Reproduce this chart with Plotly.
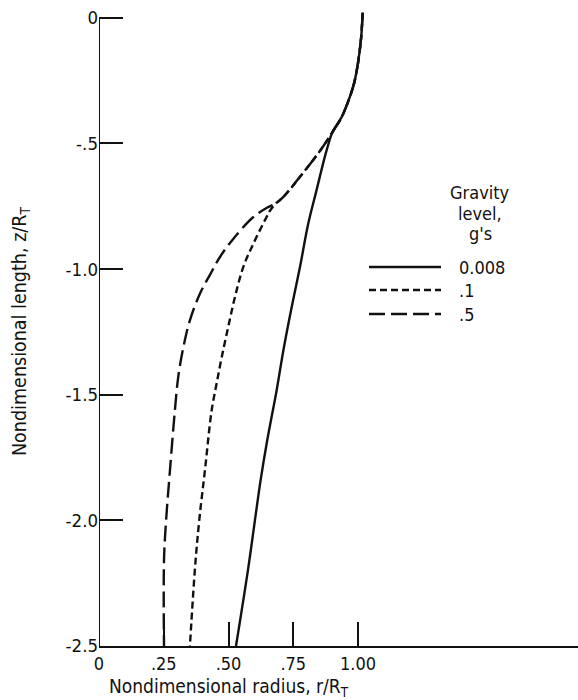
import plotly.graph_objects as go

# ---- data ----
# common upper part of all three profiles
top_r = [1.018, 1.012, 1.000, 0.985, 0.965, 0.937, 0.902]
top_z = [0.020, -0.080, -0.180, -0.260, -0.325, -0.395, -0.454]

# gravity level 0.008 g
g008_r = [0.879, 0.858, 0.840, 0.808, 0.776, 0.744, 0.712, 0.686, 0.668, 0.648, 0.624, 0.602, 0.577, 0.529]
g008_z = [-0.527, -0.610, -0.686, -0.819, -0.992, -1.151, -1.323, -1.482, -1.580, -1.690, -1.840, -2.000, -2.185, -2.500]

# shared part of 0.1 g and 0.5 g
mid_r = [0.853, 0.776, 0.712, 0.685]
mid_z = [-0.530, -0.633, -0.713, -0.737]

# gravity level 0.1 g
g01_r = [0.662, 0.647, 0.596, 0.557, 0.525, 0.499, 0.474, 0.454, 0.435, 0.409, 0.387, 0.371, 0.351]
g01_z = [-0.765, -0.793, -0.899, -0.992, -1.111, -1.230, -1.350, -1.456, -1.562, -1.801, -2.000, -2.185, -2.500]

# gravity level 0.5 g
g05_r = [0.650, 0.596, 0.519, 0.467, 0.430, 0.390, 0.351, 0.326, 0.306, 0.293, 0.274, 0.259, 0.251, 0.251]
g05_z = [-0.755, -0.793, -0.879, -0.952, -1.020, -1.097, -1.204, -1.310, -1.429, -1.562, -1.801, -2.000, -2.159, -2.500]

x_tickvals = [0, 0.25, 0.5, 0.75, 1.0]
x_ticktext = ["0", ".25", ".50", ".75", "1.00"]
y_tickvals = [0, -0.5, -1.0, -1.5, -2.0, -2.5]
y_ticktext = ["0", "-.5", "-1.0", "-1.5", "-2.0", "-2.5"]

legend_labels = ["0.008", ".1", ".5"]
legend_title = ["Gravity", "level,", "g's"]

FONT = "Liberation Sans Narrow, DejaVu Sans Condensed, Arial Narrow, sans-serif"
INK = "#111111"
dashes = ["solid", "7px,4px", "16px,6px"]

series = [
    (legend_labels[0], top_r + g008_r, top_z + g008_z),
    (legend_labels[1], top_r + mid_r + g01_r, top_z + mid_z + g01_z),
    (legend_labels[2], top_r + mid_r + g05_r, top_z + mid_z + g05_z),
]

fig = go.Figure()
for (name, r, z), d in zip(series, dashes):
    fig.add_trace(go.Scatter(
        x=r, y=z, mode="lines", name=name, showlegend=False,
        line=dict(color=INK, width=2.4, dash=d, shape="spline", smoothing=1.0),
        hoverinfo="skip",
    ))

W, H = 578, 700
L, R, T, B = 99, 0, 3, 54
pw, ph = W - L - R, H - T - B

def px_x(p):
    return (p - L) / pw

def px_y(p):
    return (H - B - p) / ph

shapes = [
    # left axis line from -2.5 to 0
    dict(type="line", xref="x", yref="y", x0=0, x1=0, y0=-2.5, y1=0,
         line=dict(color=INK, width=2)),
]
annotations = []

# manual legend
leg_y = [267, 290, 314]
for lbl, d, yy in zip(legend_labels, dashes, leg_y):
    shapes.append(dict(type="line", xref="paper", yref="paper",
                       x0=px_x(369), x1=px_x(441), y0=px_y(yy), y1=px_y(yy),
                       line=dict(color=INK, width=2.4, dash=d)))
    annotations.append(dict(text=lbl, xref="paper", yref="paper",
                            x=px_x(457), y=px_y(yy), xanchor="left", yanchor="middle",
                            showarrow=False, font=dict(family=FONT, size=18, color=INK)))
for t, yy in zip(legend_title, [193, 213, 233]):
    annotations.append(dict(text=t, xref="paper", yref="paper",
                            x=px_x(480), y=px_y(yy), xanchor="center", yanchor="middle",
                            showarrow=False, font=dict(family=FONT, size=18, color=INK)))

# axis titles
annotations.append(dict(text="Nondimensional radius, r/R<sub>T</sub>", xref="paper", yref="paper",
                        x=px_x(107), y=px_y(687), xanchor="left", yanchor="middle",
                        showarrow=False, font=dict(family=FONT, size=19, color=INK)))
annotations.append(dict(text="Nondimensional length, z/R<sub>T</sub>", xref="paper", yref="paper",
                        x=px_x(20), y=px_y(332), xanchor="center", yanchor="middle",
                        textangle=-90, showarrow=False,
                        font=dict(family=FONT, size=19.5, color=INK)))

fig.update_layout(
    width=W, height=H,
    margin=dict(l=L, r=R, t=T, b=B, autoexpand=False),
    paper_bgcolor="white", plot_bgcolor="white",
    font=dict(family=FONT, size=18, color=INK),
    showlegend=False,
    shapes=shapes, annotations=annotations,
    xaxis=dict(range=[0, pw / 259.0], showgrid=False, zeroline=False,
               showline=True, linecolor=INK, linewidth=2,
               tickmode="array", tickvals=x_tickvals, ticktext=x_ticktext,
               ticks="inside", ticklen=24, tickwidth=2, tickcolor=INK,
               tickfont=dict(family=FONT, size=18, color=INK), automargin=False),
    yaxis=dict(range=[-2.5, -2.5 + ph / 251.3], showgrid=False, zeroline=False,
               showline=False,
               tickmode="array", tickvals=y_tickvals, ticktext=y_ticktext,
               ticks="inside", ticklen=24, tickwidth=2, tickcolor=INK,
               tickfont=dict(family=FONT, size=18.5, color=INK), automargin=False),
)

fig.write_html("out.html")
